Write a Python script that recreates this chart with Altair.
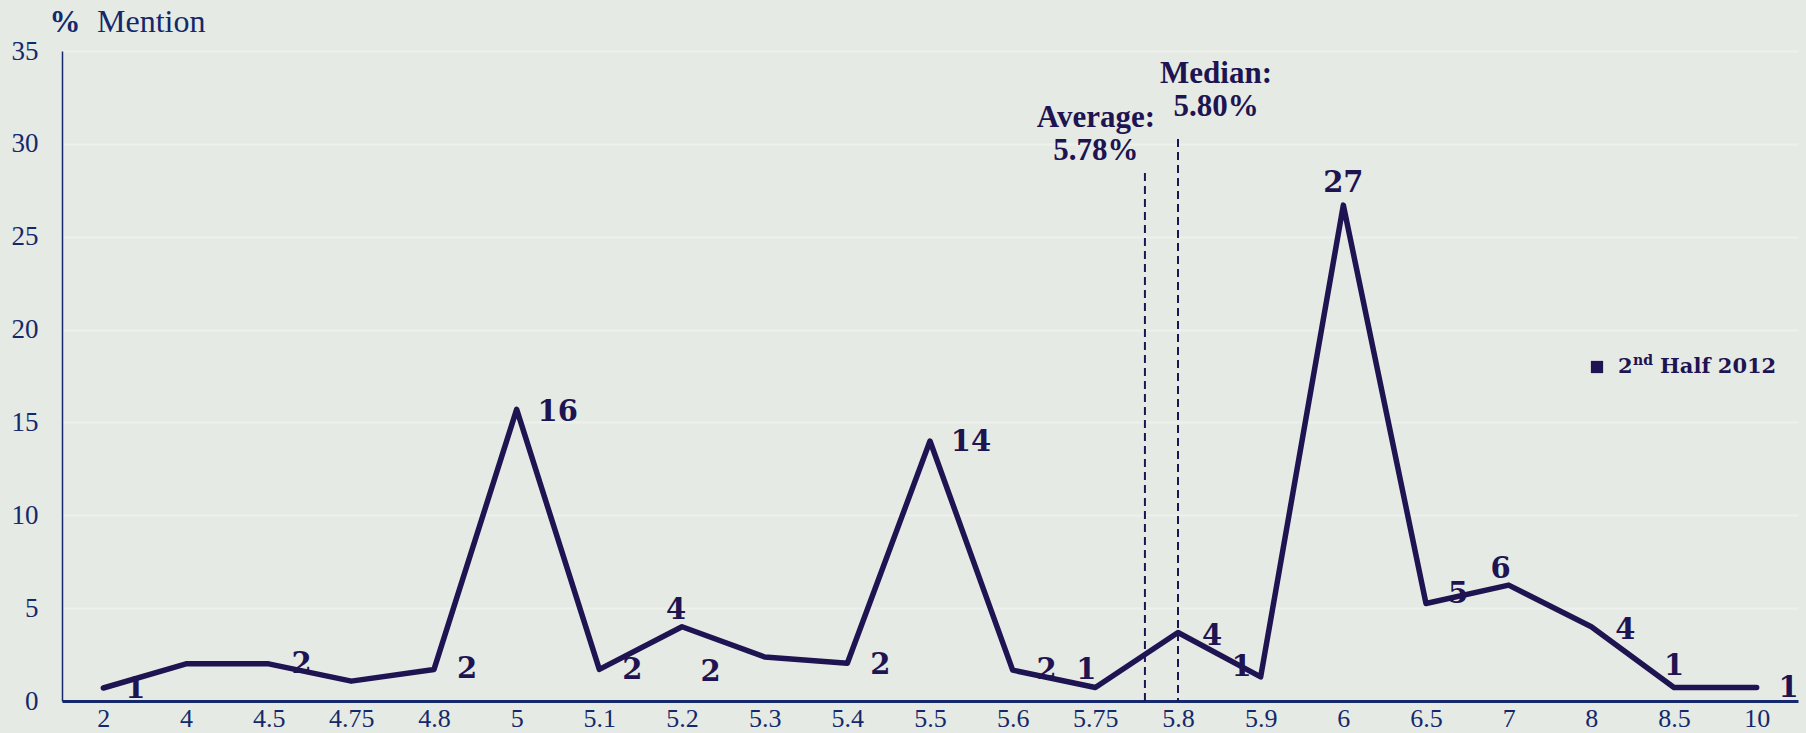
import altair as alt
import numpy as np
import pandas as pd

# Rate categories (x axis) and share of mentions (%)
rates = ["2", "4", "4.5", "4.75", "4.8", "5", "5.1", "5.2", "5.3", "5.4", "5.5",
         "5.6", "5.75", "5.8", "5.9", "6", "6.5", "7", "8", "8.5", "10"]
mention_pct = [0.7, 2.0, 2.0, 1.07, 1.7, 15.7, 1.7, 4.0, 2.37, 2.03, 14.0,
               1.66, 0.73, 3.69, 1.3, 26.7, 5.25, 6.24, 4.0, 0.73, 0.73]
y_ticks = [0, 5, 10, 15, 20, 25, 30, 35]

AVERAGE = 5.78
MEDIAN = 5.80
legend_parts = ["2", "nd", "Half 2012"]

# Styling
BG = "#e6eae4"
INK = "#1e1452"
NAVY = "#14296b"
GRID = "#edf0eb"
W, H = 1736, 650

# Label nudges (dx, dy) in pixels, per rate category
label_nudge = {
    "2": (32, 1), "4.5": (33, 0), "4.8": (33, 0), "5": (41, 3), "5.1": (33, 1),
    "5.2": (-6, -17), "5.3": (-54, 15), "5.4": (33, 2), "5.5": (41, 1),
    "5.6": (34, 0), "5.75": (-9, -17), "5.8": (34, 4), "5.9": (-19, -10),
    "6": (0, -22), "6.5": (32, -10), "7": (-8, -16), "8": (34, 3),
    "8.5": (0, -21), "10": (32, 1),
}

df = pd.DataFrame({"rate": rates, "pos": range(len(rates)), "pct": mention_pct})

# Place the average / median markers between the rate categories
rate_vals = [float(r) for r in rates]
avg_pos = float(np.interp(AVERAGE, rate_vals, range(len(rates))))
med_pos = float(np.interp(MEDIAN, rate_vals, range(len(rates))))

label_lookup = "[" + ",".join(f"'{r}'" for r in rates) + "][datum.value]"

x_enc = alt.X(
    "pos:Q",
    scale=alt.Scale(domain=[-0.5, len(rates) - 0.5], nice=False, zero=False),
    axis=alt.Axis(
        values=list(range(len(rates))), labelExpr=label_lookup, title=None,
        grid=False, ticks=False, tickSize=0, labelPadding=4,
        labelFont="Liberation Serif", labelFontSize=26, labelColor=NAVY,
        labelFlush=False, labelOverlap=False, labelAngle=0,
        domainColor=NAVY, domainWidth=3,
    ),
)
y_enc = alt.Y(
    "pct:Q",
    scale=alt.Scale(domain=[0, 35], nice=False),
    axis=alt.Axis(
        values=y_ticks, title=None, grid=True, gridColor=GRID, gridWidth=2,
        ticks=False, tickSize=0, labelPadding=24,
        labelFont="Liberation Serif", labelFontSize=27, labelColor=NAVY,
        domainColor=NAVY, domainWidth=1.5,
    ),
)

base = alt.Chart(df)

line = base.mark_line(
    color=INK, strokeWidth=5.5, strokeJoin="round", strokeCap="round"
).encode(x=x_enc, y=y_enc)

value_labels = [
    base.transform_filter(alt.datum.rate == r)
    .mark_text(font="DejaVu Serif", fontWeight="bold", fontSize=29, color=INK,
               align="center", baseline="middle", dx=dx, dy=dy)
    .encode(x=x_enc, y=y_enc, text=alt.Text("pct:Q", format=".0f"))
    for r, (dx, dy) in label_nudge.items()
]

avg_df = pd.DataFrame({"pos": [avg_pos]})
med_df = pd.DataFrame({"pos": [med_pos]})

avg_rule = alt.Chart(avg_df).mark_rule(
    color=INK, strokeWidth=2, strokeDash=[8, 5]
).encode(x=x_enc, y=alt.value(122), y2=alt.value(H))
med_rule = alt.Chart(med_df).mark_rule(
    color=INK, strokeWidth=2, strokeDash=[8, 5]
).encode(x=x_enc, y=alt.value(88), y2=alt.value(H))

note_style = dict(font="Liberation Serif", fontWeight="bold", fontSize=31,
                  color=INK, align="center", baseline="alphabetic", lineHeight=33)
avg_text = alt.Chart(avg_df).mark_text(dx=-49, **note_style).encode(
    x=x_enc, y=alt.value(76), text=alt.value(["Average:", f"{AVERAGE:.2f}%"])
)
med_text = alt.Chart(med_df).mark_text(dx=38, **note_style).encode(
    x=x_enc, y=alt.value(32), text=alt.value(["Median:", f"{MEDIAN:.2f}%"])
)

one = alt.Chart(pd.DataFrame({"k": [0]}))

# Axis heading
pct_sign = one.mark_text(font="Liberation Serif", fontWeight="bold", fontSize=31,
                         color=NAVY, align="center", baseline="alphabetic").encode(
    x=alt.value(3), y=alt.value(-19), text=alt.value("%"))
mention = one.mark_text(font="Liberation Serif", fontSize=32, color=NAVY,
                        align="left", baseline="alphabetic").encode(
    x=alt.value(35), y=alt.value(-19), text=alt.value("Mention"))

# Series key
key_swatch = one.mark_square(color=INK, size=150, opacity=1).encode(
    x=alt.value(1535), y=alt.value(316))
key_style = dict(font="DejaVu Serif", fontWeight="bold", color=INK,
                 align="left", baseline="alphabetic")
key_a = one.mark_text(fontSize=21, **key_style).encode(
    x=alt.value(1556), y=alt.value(322), text=alt.value(legend_parts[0]))
key_b = one.mark_text(fontSize=14, **key_style).encode(
    x=alt.value(1571), y=alt.value(314), text=alt.value(legend_parts[1]))
key_c = one.mark_text(fontSize=21, **key_style).encode(
    x=alt.value(1598), y=alt.value(322), text=alt.value(legend_parts[2]))

chart = alt.layer(
    line, avg_rule, med_rule, *value_labels, avg_text, med_text,
    pct_sign, mention, key_swatch, key_a, key_b, key_c,
).properties(
    width=W, height=H,
    autosize=alt.AutoSizeParams(type="none"),
    padding={"left": 62, "top": 51, "right": 8, "bottom": 32},
    background=BG,
).configure_view(stroke=None)

chart.save("out.html", embed_options={"renderer": "svg", "actions": False})
